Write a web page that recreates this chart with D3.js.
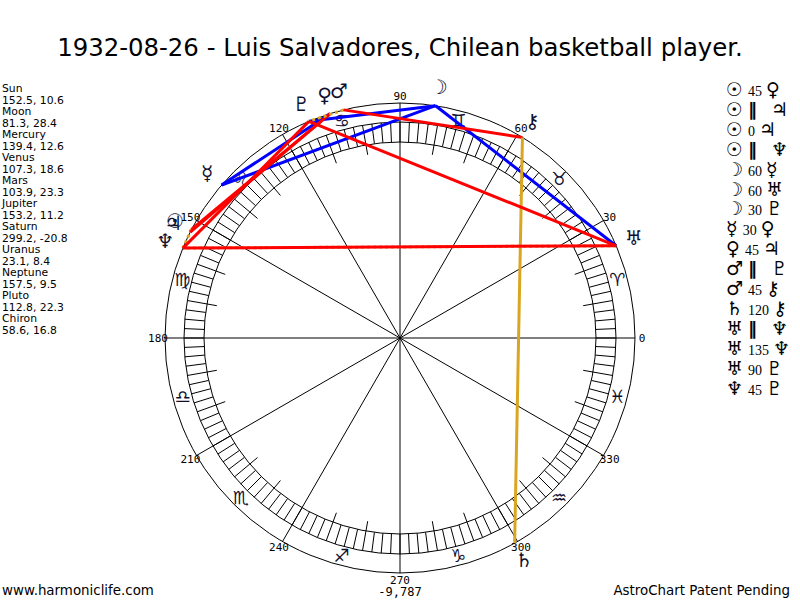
<!DOCTYPE html>
<html>
<head>
<meta charset="utf-8">
<script src="https://cdn.jsdelivr.net/npm/d3@7"></script>
<style>
    body { margin: 0; background: #fff; }
    svg { display: block; }
</style>
</head>
<body>
<svg class="chart"></svg>
<script>
//
// Natal wheel: zodiac ring, planets on the rim and aspect lines between them.
//

var planetNames = ["Sun", "Moon", "Mercury", "Venus", "Mars", "Jupiter", "Saturn", "Uranus", "Neptune", "Pluto", "Chiron"];
var planetGlyphs = ["☉", "☽", "☿", "♀", "♂", "♃", "♄", "♅", "♆", "♇", "⚷"];
var planetLongitudes = [152.5, 81.3, 139.4, 107.3, 103.9, 153.2, 299.2, 23.1, 157.5, 112.8, 58.6];
var planetDeclinations = [10.6, 28.4, 12.6, 18.6, 23.3, 11.2, -20.8, 8.4, 9.5, 22.3, 16.8];

var signGlyphs = ["♈", "♉", "♊", "♋", "♌", "♍", "♎", "♏", "♐", "♑", "♒", "♓"];
var degreeLabels = [0, 30, 60, 90, 120, 150, 180, 210, 240, 270, 300, 330];

var aspectFrom = ["Sun", "Sun", "Sun", "Sun", "Moon", "Moon", "Moon", "Mercury", "Venus", "Mars", "Mars", "Saturn", "Uranus", "Uranus", "Uranus", "Neptune"];
var aspectKinds = ["45", "‖", "0", "‖", "60", "60", "30", "30", "45", "‖", "45", "120", "‖", "135", "90", "45"];
var aspectTo = ["Venus", "Jupiter", "Jupiter", "Neptune", "Mercury", "Uranus", "Pluto", "Venus", "Jupiter", "Pluto", "Chiron", "Chiron", "Neptune", "Neptune", "Pluto", "Pluto"];

var titleText = "1932-08-26 - Luis Salvadores, Chilean basketball player.";
var bottomValue = "-9,787";

var width = 800;
var height = 600;
var cx = 400, cy = 338; // centre of the wheel
var glyphFont = "DejaVu Sans";

var angle = d3.scaleLinear().domain([0, 360]).range([0, -2 * Math.PI]); // longitude -> screen angle, counter-clockwise

function polar (r, deg) { // point on a circle round the wheel centre
    var a = angle(deg);
    return [cx + r * Math.cos(a), cy + r * Math.sin(a)];
}

var radius = { outer: 235, bandOut: 216, bandIn: 196, tickIn: 186, label: 242, sign: 225, glyph: 254 };

var aspectStyle = { // colour and dash per aspect kind
    "0": ["#ff0000", null], "45": ["#ff0000", null], "90": ["#ff0000", null], "135": ["#ff0000", null],
    "30": ["#0000ff", null], "60": ["#0000ff", null],
    "120": ["#daa520", null], "‖": ["#daa520", "3,3"]
};

var svg = d3.select("svg.chart").attr("width", width).attr("height", height);

svg.append("text") // title
    .attr("x", width / 2).attr("y", 56)
    .attr("text-anchor", "middle")
    .style("font-family", "DejaVu Sans").style("font-size", "24.4px")
    .text(titleText);

var wheel = svg.append("g").attr("fill", "none").attr("stroke", "#000").attr("stroke-width", 1);

[radius.outer, radius.bandOut, radius.bandIn].forEach(function (r) {
    wheel.append("circle").attr("cx", cx).attr("cy", cy).attr("r", r);
});

wheel.selectAll("line.hatch") // fine hatching in the band every 2.5 degrees
    .data(d3.range(0, 360, 2.5))
    .enter().append("line").attr("class", "hatch")
    .each(function (d) {
        var p1 = polar(radius.bandIn, d), p2 = polar(radius.bandOut, d);
        d3.select(this).attr("x1", p1[0]).attr("y1", p1[1]).attr("x2", p2[0]).attr("y2", p2[1]);
    });

wheel.selectAll("line.decan") // ten degree ticks inside the band
    .data(d3.range(0, 360, 10).filter(function (d) { return d % 30 !== 0; }))
    .enter().append("line").attr("class", "decan")
    .each(function (d) {
        var p1 = polar(radius.tickIn, d), p2 = polar(radius.bandIn, d);
        d3.select(this).attr("x1", p1[0]).attr("y1", p1[1]).attr("x2", p2[0]).attr("y2", p2[1]);
    });

wheel.selectAll("line.spoke") // thirty degree spokes from the centre
    .data(degreeLabels)
    .enter().append("line").attr("class", "spoke")
    .each(function (d) {
        var p = polar(radius.outer, d);
        d3.select(this).attr("x1", cx).attr("y1", cy).attr("x2", p[0]).attr("y2", p[1]);
    });

svg.selectAll("text.deg") // degree numbers round the rim
    .data(degreeLabels)
    .enter().append("text").attr("class", "deg")
    .attr("x", function (d) { return polar(radius.label, d)[0]; })
    .attr("y", function (d) { return polar(radius.label, d)[1]; })
    .attr("text-anchor", "middle").attr("dominant-baseline", "central")
    .style("font-family", "DejaVu Sans Mono").style("font-size", "11px")
    .text(function (d) { return d; });

svg.append("text")
    .attr("x", cx).attr("y", 596)
    .attr("text-anchor", "middle")
    .style("font-family", "DejaVu Sans Mono").style("font-size", "12px")
    .text(bottomValue);

svg.selectAll("text.sign") // zodiac signs in the middle of each thirty degrees
    .data(signGlyphs)
    .enter().append("text").attr("class", "sign")
    .attr("x", function (d, i) { return polar(radius.sign, i * 30 + 15)[0]; })
    .attr("y", function (d, i) { return polar(radius.sign, i * 30 + 15)[1]; })
    .attr("text-anchor", "middle").attr("dominant-baseline", "central")
    .style("font-family", glyphFont).style("font-size", "18px").attr("fill", "#101030")
    .text(function (d) { return d; });

function lonOf (name) { return planetLongitudes[planetNames.indexOf(name)]; }

var aspects = aspectKinds.map(function (k, i) { return { from: aspectFrom[i], to: aspectTo[i], kind: k }; });

svg.append("g").selectAll("line") // aspect lines between planet points on the rim
    .data(aspects)
    .enter().append("line")
    .each(function (d) {
        var p1 = polar(radius.outer, lonOf(d.from)), p2 = polar(radius.outer, lonOf(d.to));
        d3.select(this).attr("x1", p1[0]).attr("y1", p1[1]).attr("x2", p2[0]).attr("y2", p2[1]);
    })
    .attr("stroke", function (d) { return aspectStyle[d.kind][0]; })
    .attr("stroke-dasharray", function (d) { return aspectStyle[d.kind][1]; })
    .attr("stroke-width", 3);

svg.selectAll("text.planet") // planet glyphs just outside the rim
    .data(planetGlyphs)
    .enter().append("text").attr("class", "planet")
    .attr("x", function (d, i) { return polar(radius.glyph, planetLongitudes[i])[0]; })
    .attr("y", function (d, i) { return polar(radius.glyph, planetLongitudes[i])[1]; })
    .attr("text-anchor", "middle").attr("dominant-baseline", "central")
    .style("font-family", glyphFont).style("font-size", "20px").attr("fill", "#101030")
    .text(function (d) { return d; });

var leftList = svg.append("g").style("font-family", "DejaVu Sans").style("font-size", "10.8px");
planetNames.forEach(function (name, i) { // name and longitude, declination down the left
    leftList.append("text").attr("x", 2).attr("y", 92 + i * 23).text(name);
    leftList.append("text").attr("x", 2).attr("y", 103.5 + i * 23).text(planetLongitudes[i] + ", " + planetDeclinations[i]);
});

function glyphOf (name) { return planetGlyphs[planetNames.indexOf(name)]; }

var legend = svg.append("g");
aspects.forEach(function (d, i) { // aspect list down the right
    var row = legend.append("text").attr("x", 726).attr("y", 96 + i * 19.9).attr("fill", "#000");
    row.append("tspan").style("font-family", glyphFont).style("font-size", "19px").text(glyphOf(d.from));
    if (d.kind === "‖") {
        row.append("tspan").attr("dx", 5).style("font-family", glyphFont).style("font-size", "18px").style("font-weight", "bold").text(d.kind);
        row.append("tspan").attr("dx", 14).style("font-family", glyphFont).style("font-size", "19px").text(glyphOf(d.to));
    } else {
        row.append("tspan").attr("dx", 5).style("font-family", "Liberation Serif").style("font-size", "14px").text(d.kind);
        row.append("tspan").attr("dx", 4).style("font-family", glyphFont).style("font-size", "19px").text(glyphOf(d.to));
    }
});

svg.append("text").attr("x", 2).attr("y", 595)
    .style("font-family", "DejaVu Sans").style("font-size", "13.4px")
    .text("www.harmoniclife.com");

svg.append("text").attr("x", 790).attr("y", 595).attr("text-anchor", "end")
    .style("font-family", "DejaVu Sans").style("font-size", "13.4px")
    .text("AstroChart Patent Pending");
</script>
</body>
</html>
